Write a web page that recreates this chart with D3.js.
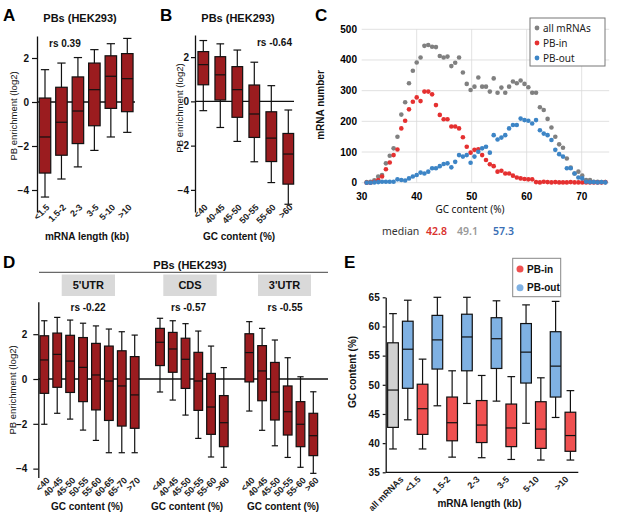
<!DOCTYPE html>
<html>
<head>
<meta charset="utf-8">
<script src="https://cdn.jsdelivr.net/npm/d3@7"></script>
<style>
  body { margin: 0; background: #fff; }
  svg { display: block; font-family: "Liberation Sans", Arial, sans-serif; }
</style>
</head>
<body>
<svg id="fig" width="617" height="519"></svg>
<script>
// ---- data (box stats are [low whisker, Q1, median, Q3, high whisker]) ----
const lengthBins = ["<1.5", "1.5-2", "2-3", "3-5", "5-10", ">10"];
const gcBins = ["<40", "40-45", "45-50", "50-55", "55-60", ">60"];
const gcBinsUtr5 = ["<40", "40-45", "45-50", "50-55", "55-60", "60-65", "65-70", ">70"];

const enrichByLength = [
  [-4.32, -3.23, -1.59, 0.18, 1.47],
  [-3.50, -2.42, -0.92, 0.67, 1.77],
  [-2.95, -1.89, -0.41, 1.14, 2.02],
  [-2.20, -1.08, 0.56, 1.77, 2.38],
  [-1.59, -0.29, 1.17, 2.10, 2.65],
  [-1.38, -0.44, 1.06, 2.20, 2.89]
];
const enrichByGc = [
  [-0.42, 0.75, 1.66, 2.25, 2.75],
  [-1.18, 0.06, 1.20, 2.02, 2.60],
  [-1.81, -0.72, 0.53, 1.57, 2.32],
  [-2.73, -1.63, -0.57, 0.74, 1.77],
  [-3.67, -2.72, -1.66, -0.47, 0.71],
  [-4.65, -3.74, -2.38, -1.45, -0.39]
];
const utr5Boxes = [
  [-2.02, -0.64, 0.85, 1.93, 2.60],
  [-1.53, -0.37, 1.10, 2.05, 2.75],
  [-1.79, -0.60, 0.80, 1.95, 2.63],
  [-2.28, -1.01, 0.52, 1.85, 2.49],
  [-2.74, -1.38, 0.18, 1.59, 2.37],
  [-3.29, -1.85, -0.09, 1.47, 2.23],
  [-3.29, -2.10, -0.31, 1.26, 2.11],
  [-3.29, -2.20, -0.71, 1.00, 1.96]
];
const cdsBoxes = [
  [-0.58, 0.60, 1.64, 2.26, 2.71],
  [-0.94, 0.30, 1.34, 2.08, 2.60],
  [-1.61, -0.42, 0.88, 1.82, 2.47],
  [-2.65, -1.40, -0.09, 1.19, 2.14],
  [-3.48, -2.47, -1.25, 0.25, 1.47],
  [-3.94, -3.02, -1.95, -0.74, 0.51]
];
const utr3Boxes = [
  [-1.43, -0.13, 1.18, 2.02, 2.56],
  [-2.29, -0.97, 0.36, 1.49, 2.26],
  [-2.98, -1.83, -0.58, 0.74, 1.74],
  [-3.50, -2.50, -1.46, -0.31, 0.95],
  [-3.94, -3.02, -2.02, -1.01, 0.10],
  [-4.21, -3.42, -2.53, -1.53, -0.57]
];

// panel C: mRNA counts per GC content bin
const gcPercent = [30.9, 31.6, 32.3, 33.0, 33.7, 34.4, 35.1, 35.8, 36.5, 37.2, 37.9, 38.6, 39.3,
  40.0, 40.7, 41.4, 42.1, 42.8, 43.5, 44.2, 44.9, 45.6, 46.3, 47.0, 47.7, 48.4, 49.1, 49.8,
  50.5, 51.2, 51.9, 52.6, 53.3, 54.0, 54.7, 55.4, 56.1, 56.8, 57.5, 58.2, 58.9, 59.6, 60.3,
  61.0, 61.7, 62.4, 63.1, 63.8, 64.5, 65.2, 65.9, 66.6, 67.3, 68.0, 68.7, 69.4, 70.1, 70.8,
  71.5, 72.2, 72.9, 73.6, 74.3];
const allCounts = [2, 3, 8, 20, 25, 63, 88, 112, 150, 222, 262, 324, 365, 392, 408, 446, 449, 443,
  442, 413, 408, 411, 380, 391, 408, 359, 322, 302, 313, 343, 313, 313, 297, 340, 293, 310, 293,
  313, 330, 324, 333, 322, 311, 293, 293, 246, 237, 208, 180, 150, 125, 114, 79, 49, 30, 36, 23,
  9, 9, 3, 3, 2, 2];
const inCounts = [0, 0, 3, 9, 20, 44, 66, 90, 108, 177, 202, 239, 264, 278, 266, 297, 297, 288,
  253, 221, 207, 207, 183, 183, 177, 148, 117, 98, 107, 109, 90, 74, 60, 54, 36, 39, 30, 30, 23,
  17, 14, 12, 11, 11, 2, 1, 3, 2, 1, 2, 1, 1, 1, 2, 1, 1, 1, 1, 1, 1, 1, 1, 2];
const outCounts = [0, 0, 1, 2, 3, 3, 3, 3, 11, 9, 7, 14, 20, 25, 33, 30, 36, 47, 47, 54, 61, 63,
  50, 68, 90, 85, 90, 65, 85, 101, 112, 117, 98, 155, 141, 147, 155, 177, 188, 188, 209, 204,
  202, 193, 204, 171, 160, 155, 139, 107, 93, 85, 47, 47, 30, 17, 14, 3, 2, 2, 1, 2, 1];
const medianLabels = ["42.8", "49.1", "57.3"];

// panel E: GC content by mRNA length
const eGroups = ["all mRNAs", "<1.5", "1.5-2", "2-3", "3-5", "5-10", ">10"];
const gcAllBox = [39.0, 42.7, 49.1, 57.2, 62.2];
const gcPbIn = [
  [39.0, 41.5, 45.9, 50.1, 54.4],
  [37.6, 40.4, 43.5, 47.9, 52.4],
  [37.5, 40.1, 43.1, 47.3, 51.6],
  [37.2, 39.4, 42.6, 46.7, 51.4],
  [37.1, 39.1, 42.4, 47.1, 51.2],
  [37.1, 38.6, 41.3, 45.3, 49.0]
];
const gcPbOut = [
  [44.0, 49.4, 56.1, 60.9, 64.5],
  [46.4, 52.7, 57.7, 61.9, 65.0],
  [46.8, 52.4, 58.2, 62.1, 65.0],
  [47.2, 52.8, 57.9, 61.5, 64.4],
  [43.4, 50.3, 55.6, 60.5, 63.7],
  [44.4, 47.9, 53.2, 59.1, 64.3]
];

// ---- drawing ----
const darkRed = "#9b1c1f";
const svg = d3.select("#fig");
svg.append("rect").attr("width", 617).attr("height", 519).attr("fill", "#fff");

function panelLetter(x, y, t) {
  svg.append("text").attr("x", x).attr("y", y).attr("font-size", 17)
    .attr("font-weight", "bold").text(t);
}

function drawBoxes(parent, items, y, w, fill) {
  const b = parent.append("g").selectAll("g").data(items).join("g");
  const cap = w * 0.72;
  b.append("line").attr("x1", d => d.x).attr("x2", d => d.x)
    .attr("y1", d => y(d.s[0])).attr("y2", d => y(d.s[4]))
    .attr("stroke", "#111").attr("stroke-width", 1.2);
  [0, 4].forEach(k => {
    b.append("line").attr("x1", d => d.x - cap / 2).attr("x2", d => d.x + cap / 2)
      .attr("y1", d => y(d.s[k])).attr("y2", d => y(d.s[k]))
      .attr("stroke", "#111").attr("stroke-width", 1.2);
  });
  b.append("rect").attr("x", d => d.x - w / 2).attr("width", w)
    .attr("y", d => y(d.s[3])).attr("height", d => y(d.s[1]) - y(d.s[3]))
    .attr("fill", fill).attr("stroke", "#111").attr("stroke-width", 1.2);
  b.append("line").attr("x1", d => d.x - w / 2).attr("x2", d => d.x + w / 2)
    .attr("y1", d => y(d.s[2])).attr("y2", d => y(d.s[2]))
    .attr("stroke", "#111").attr("stroke-width", 1.2);
}

function yAxis(x, y, ticks, size, pad) {
  const g = svg.append("g").attr("transform", `translate(${x},0)`)
    .call(d3.axisLeft(y).tickValues(ticks).tickSize(size).tickSizeOuter(0).tickPadding(pad)
      .tickFormat(d3.format("d")));
  g.select(".domain").attr("stroke", "#111").attr("stroke-width", 1.3);
  g.selectAll(".tick line").attr("stroke", "#111").attr("stroke-width", 1.2);
  g.selectAll(".tick text").attr("font-size", 10).attr("font-weight", "bold")
    .attr("font-family", "Liberation Sans, Arial, sans-serif").attr("fill", "#111");
  return g;
}

function slantLabels(labels, xs, y0, size) {
  svg.append("g").selectAll("text").data(labels).join("text")
    .attr("transform", (d, i) => `translate(${xs[i]},${y0}) rotate(-45)`)
    .attr("text-anchor", "end").attr("font-size", size).attr("font-weight", "bold")
    .attr("fill", "#222").text(d => d);
}

function text(x, y, t, opts = {}) {
  const el = svg.append("text").attr("x", x).attr("y", y).text(t)
    .attr("font-size", opts.size || 10).attr("font-weight", opts.weight || "bold")
    .attr("text-anchor", opts.anchor || "middle").attr("fill", opts.fill || "#111");
  if (opts.rotate) el.attr("transform", `rotate(${opts.rotate},${x},${y})`);
  if (opts.family) el.attr("font-family", opts.family);
  return el;
}

function zeroLine(y, x1, x2) {
  svg.append("line").attr("x1", x1).attr("x2", x2).attr("y1", y(0)).attr("y2", y(0))
    .attr("stroke", "#111").attr("stroke-width", 1.3);
}

// ---------- Panel A ----------
panelLetter(3, 21, "A");
text(80, 22, "PBs (HEK293)", { size: 11 });
const xA = d3.scalePoint().domain(lengthBins).range([45, 127.3]);
const yA = d3.scaleLinear().domain([-5, 3]).range([212, 36]);
zeroLine(yA, 37, 135);
yAxis(37, yA, [-4, -2, 0, 2], 5, 3);
drawBoxes(svg, lengthBins.map((c, i) => ({ x: xA(c), s: enrichByLength[i] })), yA, 11.5, darkRed);
text(49, 47, "rs 0.39", { anchor: "start" });
text(16.5, 116, "PB enrichment (log2)", { size: 9.5, weight: "normal", rotate: -90 });
slantLabels(lengthBins, lengthBins.map(c => xA(c) + 5), 208, 9);
text(87, 240, "mRNA length (kb)", { size: 10 });

// ---------- Panel B ----------
panelLetter(160, 21, "B");
text(238, 22, "PBs (HEK293)", { size: 11 });
const xB = d3.scalePoint().domain(gcBins).range([203.3, 288.3]);
const yB = d3.scaleLinear().domain([-5, 3]).range([212, 35]);
zeroLine(yB, 195, 294);
yAxis(195, yB, [-4, -2, 0, 2], 4, 2);
drawBoxes(svg, gcBins.map((c, i) => ({ x: xB(c), s: enrichByGc[i] })), yB, 10.7, darkRed);
text(292, 46, "rs -0.64", { anchor: "end" });
text(183, 108, "PB enrichment (log2)", { size: 9.5, weight: "normal", rotate: -90 });
slantLabels(gcBins, gcBins.map(c => xB(c) + 5), 208, 9);
text(239, 240, "GC content (%)", { size: 10 });

// ---------- Panel C ----------
panelLetter(315, 21, "C");
const xC = d3.scaleLinear().domain([30, 75]).range([361.7, 609.2]);
const yC = d3.scaleLinear().domain([0, 500]).range([182.7, 29.3]);
const gC = svg.append("g");
gC.selectAll("line.h").data(yC.ticks(5)).join("line")
  .attr("x1", xC(30)).attr("x2", xC(75)).attr("y1", d => yC(d)).attr("y2", d => yC(d))
  .attr("stroke", "#d9d9d9").attr("stroke-width", 0.8);
gC.selectAll("line.v").data([40, 50, 60, 70]).join("line")
  .attr("x1", d => xC(d)).attr("x2", d => xC(d)).attr("y1", yC(0)).attr("y2", yC(500))
  .attr("stroke", "#d9d9d9").attr("stroke-width", 0.8);
gC.selectAll("text.y").data(yC.ticks(5)).join("text")
  .attr("x", 357).attr("y", d => yC(d) + 3.5).attr("text-anchor", "end")
  .attr("font-size", 10).attr("font-weight", "bold").text(d => d);
gC.selectAll("text.x").data([30, 40, 50, 60, 70]).join("text")
  .attr("x", d => xC(d)).attr("y", 200).attr("text-anchor", "middle")
  .attr("font-size", 10).attr("font-weight", "bold").text(d => d);
const seriesC = [
  { vals: allCounts, color: "#808080", name: "all mRNAs" },
  { vals: inCounts, color: "#e53030", name: "PB-in" },
  { vals: outCounts, color: "#3d85c6", name: "PB-out" }
];
seriesC.forEach(s => {
  gC.append("g").selectAll("circle").data(s.vals).join("circle")
    .attr("cx", (d, i) => xC(gcPercent[i])).attr("cy", d => yC(d)).attr("r", 2.3)
    .attr("fill", s.color);
});
gC.append("rect").attr("x", 530).attr("y", 18).attr("width", 75).attr("height", 48)
  .attr("fill", "#fff").attr("stroke", "#777").attr("stroke-width", 1);
seriesC.forEach((s, i) => {
  gC.append("circle").attr("cx", 537).attr("cy", 28 + i * 15).attr("r", 2.4).attr("fill", s.color);
  gC.append("text").attr("x", 543).attr("y", 31.5 + i * 15).attr("font-size", 10)
    .attr("font-family", "Noto Sans, sans-serif").attr("fill", "#222").text(s.name);
});
text(324, 105, "mRNA number", { size: 10, rotate: -90 });
text(470, 213, "GC content (%)", { size: 10, weight: "normal", family: "Noto Sans, sans-serif" });
text(382, 235, "median", { size: 10.5, weight: "normal", anchor: "start", family: "Noto Sans, sans-serif", fill: "#333" });
const medColors = ["#d9302b", "#999999", "#3a6fb5"];
[426, 457, 493].forEach((x, i) => {
  text(x, 235, medianLabels[i], { size: 10.5, weight: "600", anchor: "start", family: "Noto Sans, sans-serif", fill: medColors[i] });
});

// ---------- Panel D ----------
panelLetter(3, 268, "D");
text(190, 269, "PBs (HEK293)", { size: 11 });
svg.append("line").attr("x1", 39).attr("x2", 328).attr("y1", 272.3).attr("y2", 272.3)
  .attr("stroke", "#444").attr("stroke-width", 1);
const headers = [["5'UTR", 61.7, 115], ["CDS", 163.3, 216.7], ["3'UTR", 258, 311]];
headers.forEach(h => {
  svg.append("rect").attr("x", h[1]).attr("y", 274.5).attr("width", h[2] - h[1]).attr("height", 21.5)
    .attr("fill", "#d9d9d9");
  text((h[1] + h[2]) / 2, 289, h[0], { size: 11 });
});
const yD = d3.scaleLinear().domain([-4.4, 3.45]).range([477.6, 301.7]);
zeroLine(yD, 38.3, 328);
yAxis(38.3, yD, [-4, -2, 0, 2], 5, 6);
const xD5 = d3.scalePoint().domain(gcBinsUtr5).range([44.3, 134.7]);
const xDc = d3.scalePoint().domain(gcBins).range([160, 223.8]);
const xD3 = d3.scalePoint().domain(gcBins).range([249.3, 313.3]);
drawBoxes(svg, gcBinsUtr5.map((c, i) => ({ x: xD5(c), s: utr5Boxes[i] })), yD, 8.7, darkRed);
drawBoxes(svg, gcBins.map((c, i) => ({ x: xDc(c), s: cdsBoxes[i] })), yD, 8.7, darkRed);
drawBoxes(svg, gcBins.map((c, i) => ({ x: xD3(c), s: utr3Boxes[i] })), yD, 8.7, darkRed);
text(88, 311, "rs -0.22");
text(188.5, 311, "rs -0.57");
text(285, 311, "rs -0.55");
text(16, 390, "PB enrichment (log2)", { size: 9.5, weight: "normal", rotate: -90 });
slantLabels(gcBinsUtr5, gcBinsUtr5.map(c => xD5(c) + 6), 481, 9);
slantLabels(gcBins, gcBins.map(c => xDc(c) + 6), 481, 9);
slantLabels(gcBins, gcBins.map(c => xD3(c) + 6), 481, 9);
text(87, 510, "GC content (%)", { size: 10 });
text(187, 510, "GC content (%)", { size: 10 });
text(283, 510, "GC content (%)", { size: 10 });

// ---------- Panel E ----------
panelLetter(344, 268, "E");
const yE = d3.scaleLinear().domain([35, 65]).range([472.3, 297.3]);
const slotE = d3.scaleLinear().domain([0, 12]).range([393, 570.4]);
yAxis(385.7, yE, [35, 40, 45, 50, 55, 60, 65], 3, 3);
svg.append("line").attr("x1", 385.7).attr("x2", 578.3).attr("y1", yE(35)).attr("y2", yE(35))
  .attr("stroke", "#111").attr("stroke-width", 1.3);
const lightRed = "#ef5050", lightBlue = "#7fb1e3";
drawBoxes(svg, [{ x: slotE(0), s: gcAllBox }], yE, 10.7, "#d0d0d0");
drawBoxes(svg, gcPbOut.map((s, i) => ({ x: slotE(2 * i + 1), s })), yE, 10.7, lightBlue);
drawBoxes(svg, gcPbIn.map((s, i) => ({ x: slotE(2 * i + 2), s })), yE, 10.7, lightRed);
const eLabelX = eGroups.map((g, i) => i === 0 ? slotE(0) + 11 : slotE(2 * i - 0.5) + 6);
slantLabels(eGroups, eLabelX, 480, 9);
text(479.5, 507, "mRNA length (kb)", { size: 10 });
text(356, 372, "GC content (%)", { size: 10, rotate: -90 });
svg.append("rect").attr("x", 512.7).attr("y", 258.3).attr("width", 48).attr("height", 38.4)
  .attr("fill", "#fff").attr("stroke", "#888").attr("stroke-width", 1);
[["PB-in", lightRed, 269], ["PB-out", lightBlue, 287.7]].forEach(l => {
  svg.append("circle").attr("cx", 520).attr("cy", l[2]).attr("r", 3.5).attr("fill", l[1]);
  text(527, l[2] + 3.5, l[0], { size: 10, anchor: "start" });
});
</script>
</body>
</html>
